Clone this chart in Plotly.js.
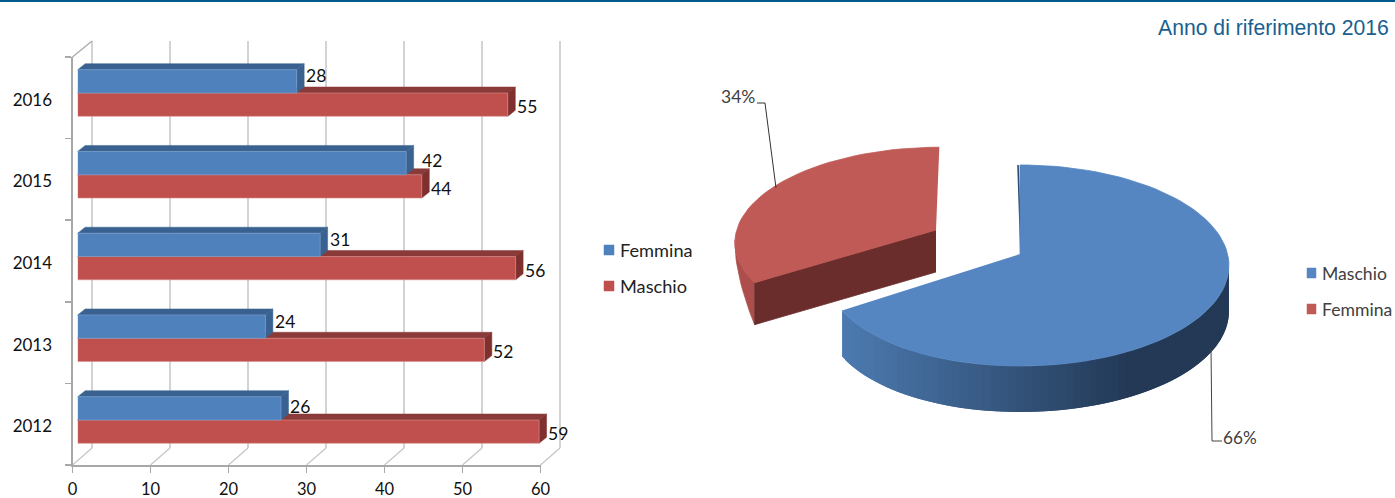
<!DOCTYPE html>
<html><head><meta charset="utf-8">
<script src="https://cdn.plot.ly/plotly-3.0.1.min.js"></script>
<style>html,body{margin:0;padding:0;background:#fff}#chart{width:1395px;height:498px}</style>
</head><body><div id="chart"></div>
<script>
// ---- data ----
const categories = ['2012','2013','2014','2015','2016'];
const femmina = [26,24,31,42,28];
const maschio = [59,52,56,44,55];
const xTicks = [0,10,20,30,40,50,60];
const pieLabels = ['Maschio','Femmina'];
const pieValues = [66,34];
const title = 'Anno di riferimento 2016';

// ---- page geometry ----
const W=1395,H=498;
const fx=p=>p/W, fy=p=>1-p/H;
const AX0=72.5,UNIT=7.8,FLOOR=465,TOP=57;
const BAR0=77.7,BUNIT=7.82,BAND=81.75,SPLIT0=420;
const BARFRAC=0.285;
const DX=7.5,DY=6;
const gridDX=19.5,gridDY=17,gridTop=41;
const C={blue:'#4F81BD',red:'#C0504D',blueD:'#3A6291',redD:'#8A3A38',redS:'#7F302E',axis:'#A8A8A8',grid:'#C5C5C5',
  pieBlue:'#5586C2',pieRed:'#C05A57',pieRedCut:'#6A2D2B',pieRedSide:'#AE4E4C',ink:'#404040'};
const FONT='Lato, sans-serif';
const blueLabelNudge=[[-1,3],[0,0],[0,0],[6,2],[-1,-1]];

const bx=v=>BAR0+BUNIT*v;
const split=i=>SPLIT0-i*BAND;
const poly=pts=>'M'+pts.map(p=>fx(p[0]).toFixed(5)+','+fy(p[1]).toFixed(5)).join('L')+'Z';
const seg=(a,b,col,w)=>({type:'line',xref:'paper',yref:'paper',x0:fx(a[0]),y0:fy(a[1]),x1:fx(b[0]),y1:fy(b[1]),layer:'below',line:{color:col,width:w}});
const face=(pts,col)=>({type:'path',xref:'paper',yref:'paper',path:poly(pts),fillcolor:col,layer:'below',line:{color:col,width:0.5}});

// ---- shapes: wall, floor, 3D faces of bars ----
const shapes=[];
shapes.push({type:'rect',xref:'paper',yref:'paper',x0:0,x1:1,y0:fy(2),y1:1,fillcolor:'#005A8C',line:{width:0},layer:'above'});
xTicks.forEach(t=>{
  const x=AX0+UNIT*t;
  shapes.push(seg([x+gridDX,gridTop],[x+gridDX,FLOOR-gridDY],C.grid,1.5));
  shapes.push(seg([x,FLOOR],[x+gridDX,FLOOR-gridDY],C.grid,1.2));
});
shapes.push(seg([AX0,TOP],[AX0+gridDX,gridTop],C.axis,1.2));
function depth(v,yTop,yBot,top,side){
  const e=bx(v);
  shapes.push(face([[BAR0,yTop],[BAR0+DX,yTop-DY],[e+DX,yTop-DY],[e,yTop]],top));
  shapes.push(face([[e,yTop],[e+DX,yTop-DY],[e+DX,yBot-DY],[e,yBot]],side));
}
const barH=BARFRAC*BAND;
categories.forEach((c,i)=>depth(maschio[i],split(i),split(i)+barH,C.redD,C.redS));
categories.forEach((c,i)=>depth(femmina[i],split(i)-barH,split(i),C.blueD,C.blueD));

// ---- annotations ----
const annotations=[];
const label=(x,y,text,size,color,family,anchor)=>annotations.push({xref:'paper',yref:'paper',x:fx(x),y:fy(y),text,showarrow:false,xanchor:anchor||'left',yanchor:'middle',font:{size,color,family},borderpad:0,borderwidth:0});
categories.forEach((c,i)=>{
  annotations.push({xref:'x2',yref:'y2',x:femmina[i],y:i+BARFRAC/2,text:String(femmina[i]),showarrow:false,xanchor:'left',yanchor:'middle',xshift:8+blueLabelNudge[i][0],yshift:5-blueLabelNudge[i][1],font:{size:17.5,color:'#111',family:FONT}});
  annotations.push({xref:'x2',yref:'y2',x:maschio[i],y:i-BARFRAC/2,text:String(maschio[i]),showarrow:false,xanchor:'left',yanchor:'middle',xshift:7,yshift:-2,font:{size:17.5,color:'#111',family:FONT}});
});
label(1389,27,title,21.2,'#1A5F8F','"Liberation Sans", Arial, sans-serif','right');
// left legend
[['Femmina',C.blue,250],['Maschio',C.red,286]].forEach(l=>{
  shapes.push(face([[604,l[2]-5],[614,l[2]-5],[614,l[2]+5],[604,l[2]+5]],l[1]));
  label(620,l[2],l[0],18.2,'#222',FONT);
});
// right legend
[[pieLabels[0],C.pieBlue,273],[pieLabels[1],C.pieRed,309]].forEach(l=>{
  shapes.push(face([[1307,l[2]-5],[1316,l[2]-5],[1316,l[2]+5],[1307,l[2]+5]],l[1]));
  label(1322,l[2],l[0],17.6,C.ink,FONT);
});
label(721,97,pieValues[1]+'%',17.5,C.ink,FONT);
label(1223,437,pieValues[0]+'%',17.2,C.ink,FONT);

// ---- traces ----
const traces=[];
traces.push({type:'scatter',x:[0],y:[0],xaxis:'x',yaxis:'y',mode:'markers',marker:{opacity:0},hoverinfo:'skip',showlegend:false});
const idx=categories.map((c,i)=>i);
traces.push({type:'bar',orientation:'h',name:'Maschio',x:maschio,y:idx,xaxis:'x2',yaxis:'y2',marker:{color:C.red,line:{color:'#D98F8C',width:0.6}},showlegend:false});
traces.push({type:'bar',orientation:'h',name:'Femmina',x:femmina,y:idx,xaxis:'x2',yaxis:'y2',marker:{color:C.blue,line:{color:'#7EA3D0',width:0.6}},showlegend:false});

// ---- 3D pie, projected from the shares ----
const PIE={cx:1020,cy:254,A:207.6,B:99.2,k:0.1143,depth:46};
const PULL=[-84,-24];
const TOTAL=pieValues[0]+pieValues[1];
const blueEnd=360*pieValues[0]/TOTAL;
const rimBlue=deg=>{
  const t=deg*Math.PI/180,X=Math.sin(t),Y=Math.cos(t),w=1+PIE.k*Y;
  const f=deg>180?1-0.047*(deg-180)/(blueEnd-180):1;
  return [PIE.cx+f*PIE.A*X/w, PIE.cy-PIE.B*Y/w];
};
const rimRed=deg=>{
  const t=deg*Math.PI/180,X=Math.sin(t),Y=Math.cos(t),w=1+PIE.k*Y;
  const dy=0.93*PIE.B*Y/w;
  return [PIE.cx+PULL[0]+0.96*PIE.A*X/w+dy*0.04, PIE.cy+PULL[1]-dy];
};
const range=(a,b,n)=>{const r=[];for(let i=0;i<=n;i++)r.push(a+(b-a)*i/n);return r;};
function fillTrace(pts,color,name,w){
  traces.push({type:'scatter',mode:'lines',x:pts.map(p=>p[0]),y:pts.map(p=>p[1]),xaxis:'x3',yaxis:'y3',fill:'toself',fillcolor:color,line:{color,width:w===undefined?0.8:w},hoverinfo:'skip',showlegend:false,name});
}
function lineTrace(pts,color,w){
  traces.push({type:'scatter',mode:'lines',x:pts.map(p=>p[0]),y:pts.map(p=>p[1]),xaxis:'x3',yaxis:'y3',line:{color,width:w},hoverinfo:'skip',showlegend:false});
}
// red slice (exploded)
const apexR=[PIE.cx+PULL[0],PIE.cy+PULL[1]];
const redRim=range(blueEnd,360,40).map(rimRed);
const redD=42;
const p0=redRim[0];
const sideA=range(blueEnd,264,14);
const sideTop=sideA.map(rimRed);
const sideBot=sideA.map((a,i)=>{const t=i/(sideA.length-1),p=sideTop[i];return [p[0],p[1]+redD*Math.pow(1-t,1.5)];});
fillTrace(sideTop.concat(sideBot.slice().reverse()),C.pieRedSide,'Femmina lato');
fillTrace([apexR,p0,[p0[0],p0[1]+redD],[apexR[0],apexR[1]+redD]],C.pieRedCut,'Femmina taglio');
fillTrace([apexR].concat(redRim),C.pieRed,'Femmina');
// blue slice: extruded rim with shading (each step overlaps the next to hide seams)
function mix(a,b,t){return 'rgb('+a.map((v,i)=>Math.round(v+(b[i]-v)*t)).join(',')+')';}
const L=[76,122,176],Dk=[35,57,86];
const sideAngles=range(blueEnd,96,70);
for(let i=0;i<sideAngles.length-1;i++){
  const a=rimBlue(sideAngles[i]),b=rimBlue(sideAngles[Math.min(i+2,sideAngles.length-1)]);
  const t=Math.min(1,Math.max(0,(a[0]-842)/(1125-842)));
  fillTrace([a,b,[b[0],b[1]+PIE.depth],[a[0],a[1]+PIE.depth]],mix(L,Dk,t),'Maschio lato',0);
}
lineTrace([[PIE.cx-2,165],[PIE.cx+1,PIE.cy]],'#2B4A70',1.6);
fillTrace([[PIE.cx,PIE.cy]].concat(range(0,blueEnd,90).map(rimBlue)),C.pieBlue,'Maschio');
// leader lines
lineTrace([[757,103],[765,103],[776,188]],'#333',1);
lineTrace([[1211,348],[1212,441],[1222,441]],'#444',1);

const layout={
  width:W,height:H,margin:{l:0,r:0,t:0,b:0},paper_bgcolor:'#fff',plot_bgcolor:'rgba(0,0,0,0)',
  showlegend:false,barmode:'group',bargap:1-2*BARFRAC,bargroupgap:0,font:{family:FONT},
  xaxis:{domain:[fx(AX0),fx(AX0+60*UNIT)],range:[0,60],anchor:'y',tickmode:'array',tickvals:xTicks,ticks:'outside',ticklen:6,tickwidth:1.5,tickcolor:C.axis,
    showline:true,linecolor:C.axis,linewidth:2,showgrid:false,zeroline:false,tickfont:{size:16.5,color:'#111',family:FONT},ticklabelstandoff:2},
  yaxis:{domain:[fy(FLOOR),fy(TOP)],range:[-0.5,4.5],anchor:'x',tickmode:'array',tickvals:idx.map(i=>i-0.024),ticktext:categories,ticks:'',
    minor:{tickmode:'array',tickvals:[-0.5,0.5,1.5,2.5,3.5,4.5],ticks:'outside',ticklen:6,tickwidth:1.5,tickcolor:C.axis,showgrid:false},
    showline:true,linecolor:C.axis,linewidth:2,showgrid:false,zeroline:false,tickfont:{size:17,color:'#111',family:FONT},ticklabelstandoff:15},
  xaxis2:{domain:[fx(BAR0),fx(BAR0+60*BUNIT)],range:[0,60],anchor:'y2',visible:false},
  yaxis2:{domain:[fy(SPLIT0+0.5*BAND),fy(SPLIT0-4.5*BAND)],range:[-0.5,4.5],anchor:'x2',visible:false},
  xaxis3:{domain:[0,1],range:[0,W],anchor:'y3',visible:false},
  yaxis3:{domain:[0,1],range:[H,0],anchor:'x3',visible:false},
  shapes,annotations
};
Plotly.newPlot('chart',traces,layout,{displayModeBar:false,staticPlot:true});
</script></body></html>
